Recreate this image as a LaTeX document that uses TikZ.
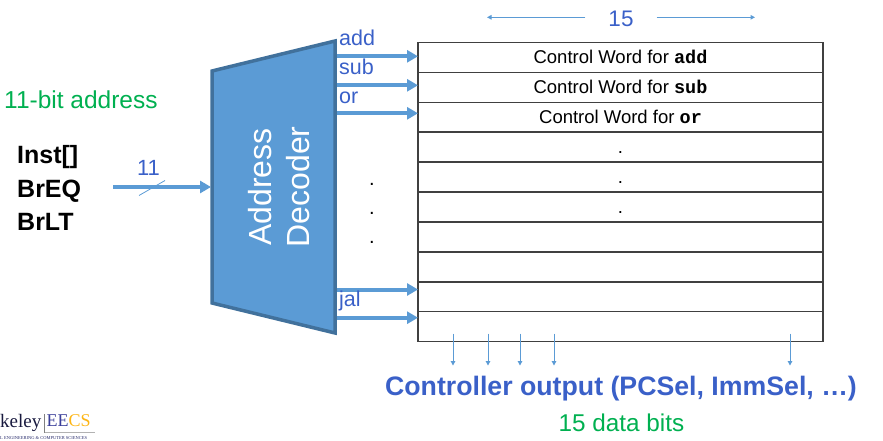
\documentclass[tikz,border=0pt]{standalone}
\usepackage{fontspec}
\setmainfont{Liberation Sans}
\setmonofont{Liberation Mono}
\newfontfamily\logofont{Liberation Serif}
\usetikzlibrary{arrows.meta,positioning}
\definecolor{decfill}{HTML}{5B9BD5}
\definecolor{decdraw}{HTML}{41719C}
\definecolor{wireblue}{HTML}{5B9BD5}
\definecolor{labelblue}{HTML}{3A60C8}
\definecolor{bitgreen}{HTML}{00B050}
\definecolor{rowgray}{HTML}{404040}
\definecolor{eecsblue}{HTML}{3B3F9A}
\definecolor{eecsgold}{HTML}{FDB515}
\newcommand{\fsz}[1]{\fontsize{#1}{#1}\selectfont}

\begin{document}
\begin{tikzpicture}[x=1pt,y=-1pt,
  wire/.style={draw=wireblue,line width=4pt,-{Triangle[length=11pt,width=12pt]}},
  thinwire/.style={draw=wireblue,line width=1pt,-{Triangle[length=4.5pt,width=4.5pt]}},
  word/.style={draw=rowgray,line width=1.6pt,minimum width=405pt,minimum height=29.9pt,
    inner sep=0pt,outer sep=0pt,text height=13pt,text depth=0pt,font=\fsz{18.5}},
  sel/.style={text=labelblue,font=\fsz{21.5},inner sep=0pt,anchor=base west},
  sig/.style={font=\bfseries\fsz{25},inner sep=0pt,anchor=base west},
  dots/.style={font=\fsz{20},inner sep=0pt,anchor=base}]
  \useasboundingbox (0,0) rectangle (883,441);

  % control word ROM
  \node[word] (row1) at (620.5,57.5) {Control Word for \textbf{\texttt{add}}};
  \node[word] (row2) [below=0pt of row1] {Control Word for \textbf{\texttt{sub}}};
  \node[word] (row3) [below=0pt of row2] {Control Word for \textbf{\texttt{or}}};
  \node[word] (row4) [below=0pt of row3] {.};
  \node[word] (row5) [below=0pt of row4] {.};
  \node[word] (row6) [below=0pt of row5] {.};
  \node[word] (row7) [below=0pt of row6] {};
  \node[word] (row8) [below=0pt of row7] {};
  \node[word] (row9) [below=0pt of row8] {};
  \node[word] (row10) [below=0pt of row9] {};

  % width of a word
  \node[text=labelblue,font=\fsz{22.5},inner sep=0pt,anchor=base] (width) at (621,26.7) {15};
  \coordinate (wl) at (487,17.3);
  \coordinate (wr) at (755,17.3);
  \draw[thinwire] ([xshift=-23pt]width.west |- wl) -- (wl);
  \draw[thinwire] ([xshift=23pt]width.east |- wr) -- (wr);

  % decoder outputs
  \coordinate (add) at (335,56.3);
  \coordinate (sub) at (335,85.3);
  \coordinate (or) at (335,113.3);
  \coordinate (jal) at (335,289.5);
  \coordinate (last) at (335,317.7);
  \draw[wire] (add) -- (add -| row1.west);
  \draw[wire] (sub) -- (sub -| row2.west);
  \draw[wire] (or) -- (or -| row3.west);
  \draw[wire] (jal) -- (jal -| row9.west);
  \draw[wire] (last) -- (last -| row10.west);
  \node[sel] (addl) at (339,45.5) {add};
  \node[sel] (subl) at (339,75) {sub};
  \node[sel] (orl) at (339,103.3) {or};
  \node[sel] (jall) at (339,306.7) {jal};
  \node[dots] (d1) at (372,185) {.};
  \node[dots] (d2) at (372,214) {.};
  \node[dots] (d3) at (372,243) {.};

  % address decoder
  \coordinate (dtl) at (212,71);
  \coordinate (dtr) at (335,41);
  \coordinate (dbr) at (335,333);
  \coordinate (dbl) at (212,303);
  \draw[fill=decfill,draw=decdraw,line width=3.5pt,line join=miter] (dtl) -- (dtr) -- (dbr) -- (dbl) -- cycle;
  \node[rotate=90,align=center,text=white,font=\fontsize{32}{38}\selectfont] (dec) at (279,187) {Address\\Decoder};

  % address input
  \node[text=bitgreen,font=\fsz{24.5},inner sep=0pt,anchor=base west] (addr) at (4,108.3) {11-bit address};
  \node[sig] (inst) at (17,164) {Inst[]};
  \node[sig] (breq) at (17,197) {BrEQ};
  \node[sig] (brlt) at (17,230) {BrLT};
  \coordinate (in) at (113,187);
  \draw[wire] (in) -- ([xshift=-1pt]in -| dtl);
  \node[text=labelblue,font=\fsz{22},inner sep=0pt,anchor=base] (n) at (148.5,175.7) {11};
  \draw[wireblue,line width=0.8pt] (139,195.5) -- (165,180.5);

  % outputs
  \foreach \dx in {35,70,102,136,372}
    \draw[thinwire] ([xshift=\dx pt,yshift=8pt]row10.south west) -- ++(0,32);
  \node[text=labelblue,font=\bfseries\fsz{26.7},inner sep=0pt,anchor=base] (out) at (621,395.7) {Controller output (PCSel, ImmSel, …)};
  \node[text=bitgreen,font=\fsz{24.3},inner sep=0pt,anchor=base] (bits) at (621.5,431.7) {15 data bits};

  % logo
  \node[text=black!60!eecsblue,font=\logofont\fsz{19},inner sep=0pt,anchor=base west] (logo) at (0,427.5) {keley};
  \node[font=\logofont\fsz{18},inner sep=0pt,anchor=base west] (eecs) at (46.5,426.7) {\textcolor{eecsblue}{EE}\textcolor{eecsgold}{CS}};
  \draw[gray,line width=0.6pt] (44.5,414) -- (44.5,433);
  \draw[gray!60,line width=0.5pt] (44.5,432.5) -- (95,432.5);
  \node[text=eecsblue!70!black,font=\logofont\fsz{4.5},inner sep=0pt,anchor=base west] (dept) at (0,439.5) {L ENGINEERING \& COMPUTER SCIENCES};
\end{tikzpicture}
\end{document}
